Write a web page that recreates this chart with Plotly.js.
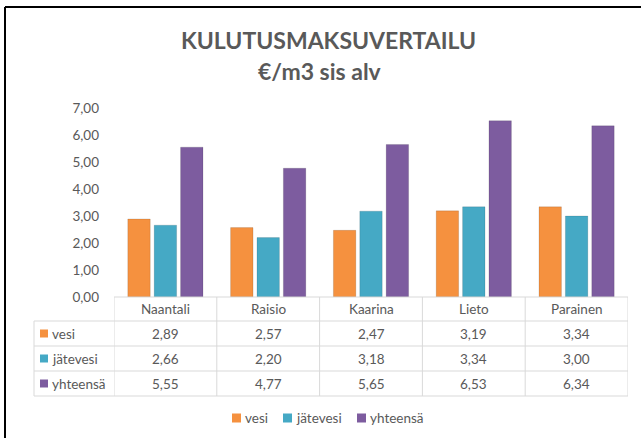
<!DOCTYPE html>
<html>
<head>
<meta charset="utf-8">
<script src="https://cdn.plot.ly/plotly-3.0.1.min.js"></script>
<style>html,body{margin:0;padding:0;background:#fff;}#chart{width:641px;height:438px;}</style>
</head>
<body>
<div id="chart"></div>
<script>
// ---- data ----
const categories = ['Naantali', 'Raisio', 'Kaarina', 'Lieto', 'Parainen'];
const vesi = [2.89, 2.57, 2.47, 3.19, 3.34];
const jatevesi = [2.66, 2.20, 3.18, 3.34, 3.00];
const yhteensa = [5.55, 4.77, 5.65, 6.53, 6.34];
const seriesNames = ['vesi', 'jätevesi', 'yhteensä'];
const yTicks = [0, 1, 2, 3, 4, 5, 6, 7];
const titleLine1 = 'KULUTUSMAKSUVERTAILU';
const titleLine2 = '€/m3 sis alv';

// ---- styles ----
const seriesValues = [vesi, jatevesi, yhteensa];
const colors = ['#F5913F', '#45A9C5', '#7D5C9F'];
const textColor = '#595959';
const gridColor = '#D9D9D9';
const FONT = 'Lato, "Open Sans", sans-serif';

// plot area in pixels
const W = 641, H = 438;
const L = 114, R = 628, T = 108, B = 297;
const X = px => (px - L) / (R - L);
const Y = py => (B - py) / (B - T);

const fmt = v => v.toFixed(2).replace('.', ',');

const traces = seriesNames.map((name, s) => ({
  type: 'bar',
  name: name,
  x: categories,
  y: seriesValues[s],
  marker: { color: colors[s], line: { color: 'rgba(0,0,0,0.12)', width: 1 } },
  hoverinfo: 'x+y+name',
  showlegend: false
}));

const shapes = [];
const annotations = [];

// outer frame (top and left)
shapes.push({ type: 'line', xref: 'paper', yref: 'paper', x0: X(5), x1: X(641), y0: Y(7), y1: Y(7), line: { color: '#000', width: 2 } });
shapes.push({ type: 'line', xref: 'paper', yref: 'paper', x0: X(5), x1: X(5), y0: Y(7), y1: Y(438), line: { color: '#000', width: 2 } });

// data table
const rowLines = [297, 321, 346, 371, 396];
const tableLeft = 34;
shapes.push({ type: 'line', xref: 'paper', yref: 'paper', x0: 0, x1: 1, y0: Y(rowLines[0]), y1: Y(rowLines[0]), line: { color: gridColor, width: 1 } });
for (let r = 1; r < rowLines.length; r++) {
  shapes.push({ type: 'line', xref: 'paper', yref: 'paper', x0: X(tableLeft), x1: 1, y0: Y(rowLines[r]), y1: Y(rowLines[r]), line: { color: gridColor, width: 1 } });
}
shapes.push({ type: 'line', xref: 'paper', yref: 'paper', x0: X(tableLeft), x1: X(tableLeft), y0: Y(rowLines[1]), y1: Y(rowLines[4]), line: { color: gridColor, width: 1 } });
for (let i = 0; i <= categories.length; i++) {
  shapes.push({ type: 'line', xref: 'x', yref: 'paper', x0: i - 0.5, x1: i - 0.5, y0: Y(rowLines[0]), y1: Y(rowLines[4]), line: { color: gridColor, width: 1 } });
}
const cellFont = { family: FONT, size: 13.5, color: textColor };
// header row: category names
categories.forEach((c, i) => {
  annotations.push({ xref: 'x', yref: 'paper', x: i, y: Y((rowLines[0] + rowLines[1]) / 2), text: c, showarrow: false, font: cellFont, xanchor: 'center', yanchor: 'middle' });
});
// series rows
seriesNames.forEach((name, s) => {
  const cy = (rowLines[s + 1] + rowLines[s + 2]) / 2;
  shapes.push({ type: 'rect', xref: 'paper', yref: 'paper', x0: X(40), x1: X(48), y0: Y(cy - 4), y1: Y(cy + 4), fillcolor: colors[s], line: { width: 0 } });
  annotations.push({ xref: 'paper', yref: 'paper', x: X(50), y: Y(cy), text: name, showarrow: false, font: cellFont, xanchor: 'left', yanchor: 'middle' });
  seriesValues[s].forEach((v, i) => {
    annotations.push({ xref: 'x', yref: 'paper', x: i, y: Y(cy), text: fmt(v), showarrow: false, font: cellFont, xanchor: 'center', yanchor: 'middle' });
  });
});

// legend
const legendX = [232, 283, 357];
const legendY = 418;
seriesNames.forEach((name, s) => {
  shapes.push({ type: 'rect', xref: 'paper', yref: 'paper', x0: X(legendX[s]), x1: X(legendX[s] + 9), y0: Y(legendY - 4.5), y1: Y(legendY + 4.5), fillcolor: colors[s], line: { width: 0 } });
  annotations.push({ xref: 'paper', yref: 'paper', x: X(legendX[s] + 11), y: Y(legendY), text: name, showarrow: false, font: cellFont, xanchor: 'left', yanchor: 'middle' });
});

// titles
annotations.push({ xref: 'paper', yref: 'paper', x: X(328), y: Y(40), text: titleLine1, showarrow: false, font: { family: FONT, size: 23, color: textColor, weight: 'bold' }, xanchor: 'center', yanchor: 'middle' });
annotations.push({ xref: 'paper', yref: 'paper', x: X(320), y: Y(71), text: titleLine2, showarrow: false, font: { family: FONT, size: 23, color: textColor, weight: 'bold' }, xanchor: 'center', yanchor: 'middle' });

const layout = {
  width: W, height: H,
  margin: { l: L, r: W - R, t: T, b: H - B, pad: 0 },
  paper_bgcolor: '#fff', plot_bgcolor: '#fff',
  separators: ', ',
  barmode: 'group',
  bargap: 0.23,
  bargroupgap: 0.15,
  showlegend: false,
  font: { family: FONT, color: textColor },
  xaxis: { type: 'category', range: [-0.5, categories.length - 0.5], showticklabels: false, showgrid: false, zeroline: false, showline: false, ticks: '' },
  yaxis: { range: [0, 7], tickvals: yTicks, tickformat: '.2f', showgrid: false, zeroline: false, showline: false, ticks: '', ticklabelstandoff: 14, tickfont: { family: FONT, size: 13.5, color: textColor } },
  shapes: shapes,
  annotations: annotations
};

Plotly.newPlot('chart', traces, layout, { displayModeBar: false, staticPlot: true });
</script>
</body>
</html>
